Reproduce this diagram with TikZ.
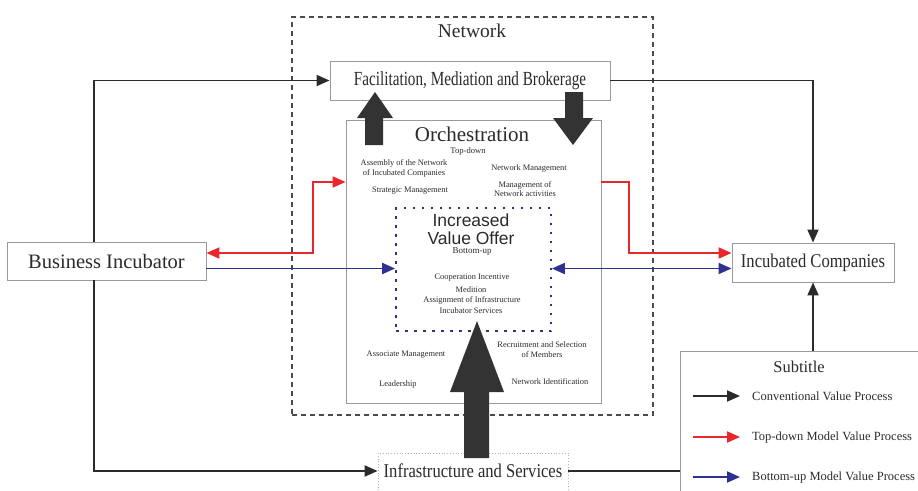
\documentclass[tikz,border=0pt]{standalone}
\usepackage{fontspec}
\setmainfont{Liberation Serif}
\newfontfamily\sansf{Liberation Sans}
\newfontfamily\condA[FakeStretch=0.76]{Liberation Serif}
\newfontfamily\condB[FakeStretch=0.85]{Liberation Serif}
\usetikzlibrary{arrows.meta}
\definecolor{dk}{HTML}{2B2B2B}
\definecolor{big}{HTML}{333333}
\definecolor{rd}{HTML}{E8262C}
\definecolor{bl}{HTML}{2E3192}
\definecolor{bx}{HTML}{999999}
\newcommand{\fsz}[1]{\fontsize{#1}{1.15\dimexpr #1pt\relax}\selectfont}
\tikzset{
  tip/.tip={Triangle[length=13pt,width=11pt]},
  conv/.style={draw=dk,line width=1.9pt,-tip},
  td/.style={draw=rd,line width=1.9pt},
  bu/.style={draw=bl,line width=1.9pt},
  boxn/.style={draw=bx,line width=0.9pt,fill=white,inner sep=0pt},
  small/.style={font=\fsz{8.4},text=dk,align=center,inner sep=0pt},
  bigarrow/.style={fill=big,draw=none},
}
\begin{document}
\begin{tikzpicture}[x=1pt,y=-1pt]
\useasboundingbox (0,0) rectangle (918,490);
% network dashed box
\node[draw=dk!85,dash pattern=on 5pt off 4pt,line width=1.2pt,minimum width=361pt,minimum height=398pt,inner sep=0pt] (net) at (472.5,216) {};
\node[font=\fsz{19.5},text=dk,inner sep=0pt] (netl) at (472,31) {Network};
% orchestration box
\node[draw=bx,line width=0.9pt,fill=white,minimum width=255pt,minimum height=283pt,inner sep=0pt] (orch) at (473.5,261.5) {};
% facilitation
\node[boxn,minimum width=280pt,minimum height=39pt,font=\condA\fsz{20},text=dk] (fac) at (470,80.5) {Facilitation, Mediation and Brokerage};
% value offer dotted box
\node[draw=bl,line width=1.8pt,dash pattern=on 2.5pt off 6.5pt,minimum width=155pt,minimum height=123pt,inner sep=0pt] (vo) at (473.5,269.5) {};
% outer boxes
\node[boxn,minimum width=199pt,minimum height=38pt,font=\fsz{20.5},text=dk] (bi) at (106.5,261) {Business Incubator};
\node[boxn,minimum width=162pt,minimum height=39pt,font=\condB\fsz{19.5},text=dk] (ic) at (813,262.5) {Incubated Companies};
\node[draw=black!30,dotted,line width=0.8pt,fill=white,minimum width=190pt,minimum height=40pt,inner sep=0pt] (inf) at (473,473) {};
\node[font=\condB\fsz{19.5},text=dk,inner sep=0pt] (infl) at (473,471) {Infrastructure and Services};
% texts orchestration
\node[font=\fsz{21},text=dk,inner sep=0pt] (orl) at (472,134) {Orchestration};
\node[small,font=\fsz{8.6}] (tdl) at (468,151) {Top-down};
\node[small] (t1) at (404,168.5) {Assembly of the Network\\of Incubated Companies};
\node[small] (t2) at (529,168) {Network Management};
\node[small] (t3) at (410,191) {Strategic Management};
\node[small] (t4) at (525,189) {Management of\\Network activities};
\node[small] (t5) at (542,349.5) {Recruitment and Selection\\of Members};
\node[small] (t6) at (406,355) {Associate Management};
\node[small] (t7) at (398,384) {Leadership};
\node[small] (t8) at (550,382) {Network Identification};
% value offer texts
\node[font=\sansf\fsz{17.5},text=dk,align=center,inner sep=0pt] (vol) at (471,229) {Increased\\[-2pt]Value Offer};
\node[small,font=\fsz{9}] (bul) at (472,251.5) {Bottom-up};
\node[small] (v1) at (472,278) {Cooperation Incentive};
\node[small] (v2) at (471,289.5) {Medition};
\node[small] (v3) at (472,300) {Assignment of Infrastructure};
\node[small] (v4) at (471,311) {Incubator Services};
% big arrows
\fill[bigarrow] (365,145) -- (365,118) -- (357,118) -- (375,92) -- (393,118) -- (383,118) -- (383,145) -- cycle;
\fill[bigarrow] (565,92) -- (583,92) -- (583,118) -- (593,118) -- (573,145) -- (553,118) -- (565,118) -- cycle;
\fill[bigarrow] (464,458) -- (464,392) -- (450,392) -- (477,321) -- (504,392) -- (489,392) -- (489,458) -- cycle;
% coordinates
\coordinate (bx) at (94,0);
\coordinate (ry) at (0,253);
\coordinate (by) at (0,268.5);
\coordinate (r1) at (313,182);
\coordinate (r2) at (629,182);
% black connectors
\draw[conv] (bi.north -| bx) |- (fac.west);
\draw[conv] (bi.south -| bx) |- (infl.west -| inf.west);
\draw[conv] (fac.east) -| (ic.north);
\draw[conv] (inf.east |- infl) -| (ic.south);
% red connectors
\draw[td,tip-tip] (bi.east |- ry) -| (r1) -- (r1 -| orch.west);
\draw[td,-tip] (orch.east |- r2) -- (r2) |- (ic.west |- ry);
% blue connectors
\draw[bu,-tip] (bi.east |- by) -- (vo.west |- by);
\draw[bu,tip-tip] (vo.east |- by) -- (ic.west |- by);
% legend
\node[draw=bx,line width=0.9pt,fill=white,minimum width=250pt,minimum height=150pt,inner sep=0pt] (sub) at (805,426) {};
\node[font=\fsz{16.5},text=dk,inner sep=0pt] (subl) at (799,367) {Subtitle};
\coordinate (la1) at (693,396);
\coordinate (la2) at (693,437);
\coordinate (la3) at (693,477);
\node[font=\fsz{12.5},text=dk,anchor=west,inner sep=0pt] (l1) at (752,396) {Conventional Value Process};
\node[font=\fsz{12.5},text=dk,anchor=west,inner sep=0pt] (l2) at (752,437) {Top-down Model Value Process};
\node[font=\fsz{12.5},text=dk,anchor=west,inner sep=0pt] (l3) at (752,477) {Bottom-up Model Value Process};
\draw[conv] (la1) -- ++(47,0);
\draw[td,-tip] (la2) -- ++(47,0);
\draw[bu,-tip] (la3) -- ++(47,0);
\end{tikzpicture}
\end{document}
